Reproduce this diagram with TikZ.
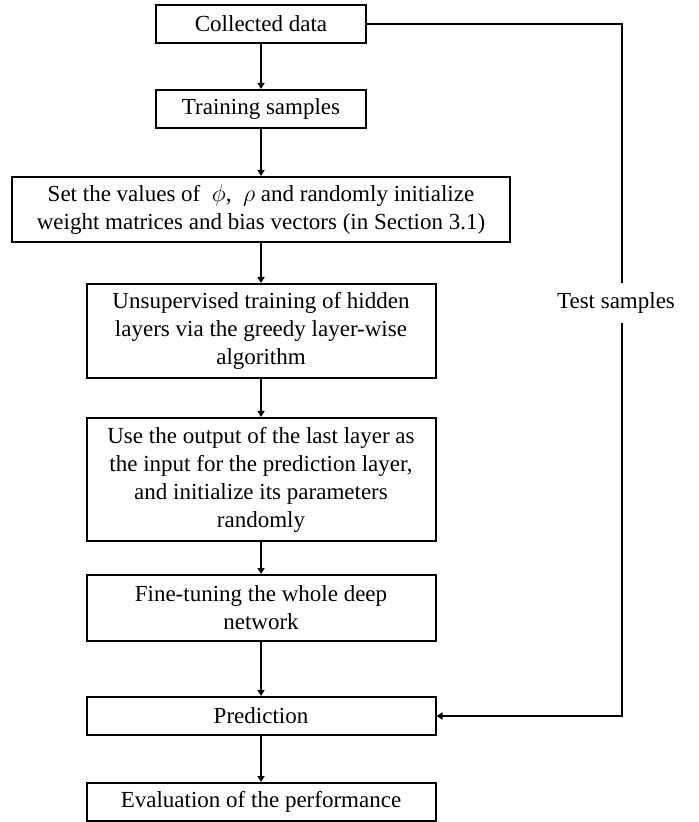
\documentclass[tikz,border=0pt]{standalone}
\usepackage{fontspec}
\setmainfont{Liberation Serif}
\usepackage{tikz}
\usetikzlibrary{arrows.meta,positioning,calc}

\begin{document}
\begin{tikzpicture}[
      x=0.5pt,y=-0.5pt,
      box/.style={draw=black,line width=1pt,align=center,inner sep=2pt,
                  font=\fontsize{11.5}{14}\selectfont},
      label/.style={align=center,inner sep=0pt,minimum height=20pt,
                    font=\fontsize{11.5}{14}\selectfont},
      arrow/.style={-{Triangle[length=3pt,width=3.5pt]},line width=1pt,draw=black},
      plain/.style={line width=1pt,draw=black}
    ]

    \useasboundingbox (0,0) rectangle (699,822);

    % Data
    \node[box,minimum width=105pt,minimum height=19pt] (CD) at (261,24) {Collected data};
    \node[box,minimum width=105pt,minimum height=19pt] (TS) at (261,109) {Training samples};

    % Pre-training
    \node[box,minimum width=249pt,minimum height=32.5pt] (SV) at (261,209.5)
      {Set the values of~ $\phi$,~ $\rho$ and randomly initialize\\
       weight matrices and bias vectors (in Section 3.1)};
    \node[box,minimum width=174.5pt,minimum height=47pt] (US) at (261,331)
      {Unsupervised training of hidden\\
       layers via the greedy layer-wise\\
       algorithm};
    \node[box,minimum width=174.5pt,minimum height=61.5pt] (UO) at (261,479.5)
      {Use the output of the last layer as\\
       the input for the prediction layer,\\
       and initialize its parameters\\
       randomly};
    \node[box,minimum width=174.5pt,minimum height=33pt] (FT) at (261,608)
      {Fine-tuning the whole deep\\
       network};

    % Output
    \node[box,minimum width=174.5pt,minimum height=19pt] (PR) at (261,716) {Prediction};
    \node[box,minimum width=174.5pt,minimum height=19pt] (EV) at (261,802) {Evaluation of the performance};

    \draw[arrow] (CD) -- (TS);
    \draw[arrow] (TS) -- (SV);
    \draw[arrow] (SV) -- (US);
    \draw[arrow] (US) -- (UO);
    \draw[arrow] (UO) -- (FT);
    \draw[arrow] (FT) -- (PR);
    \draw[arrow] (PR) -- (EV);

    % Test branch
    \coordinate (TR) at (622,24);
    \node[label] (TE) at (616,303) {Test samples};

    \draw[plain] (CD.east) -- (TR) -- (TR |- TE.north);
    \draw[arrow] (TR |- TE.south) |- (PR.east);

  \end{tikzpicture}
\end{document}
